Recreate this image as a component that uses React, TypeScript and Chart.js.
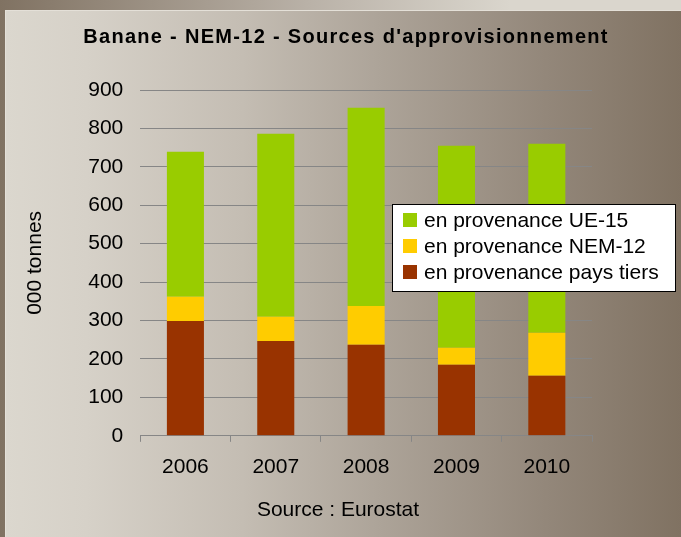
import React, { useEffect, useRef } from "react";
import { Chart, registerables } from "chart.js";

Chart.register(...registerables);

// ---- data ----
const TITLE = "Banane - NEM-12 - Sources d'approvisionnement";
const SOURCE_LABEL = "Source : Eurostat";
const Y_TITLE = "000 tonnes";
const years = ["2006", "2007", "2008", "2009", "2010"];
const paysTiers = [299, 247, 237, 185, 156];
const nem12 = [63, 63, 101, 44, 112];
const ue15 = [377, 476, 516, 526, 492];
const seriesNames = ["en provenance pays tiers", "en provenance NEM-12", "en provenance UE-15"];
const seriesColors = ["#993300", "#FFCC00", "#99CC00"];
const Y_MIN = 0;
const Y_MAX = 900;
const Y_STEP = 100;

const FONT = "'Liberation Sans', Arial, sans-serif";

const overlayPlugin = {
  id: "overlayText",
  afterDraw(chart: any) {
    const ctx = chart.ctx as CanvasRenderingContext2D;
    // title
    ctx.save();
    ctx.fillStyle = "#000";
    ctx.font = `bold 20px ${FONT}`;
    (ctx as any).letterSpacing = "1.3px";
    ctx.textAlign = "center";
    ctx.textBaseline = "alphabetic";
    ctx.fillText(TITLE, 346, 42.5);
    ctx.restore();

    // source label
    ctx.save();
    ctx.fillStyle = "#000";
    ctx.font = `21px ${FONT}`;
    ctx.textAlign = "center";
    ctx.textBaseline = "alphabetic";
    ctx.fillText(SOURCE_LABEL, 338, 516);
    ctx.restore();

    // legend (reverse order of stacking)
    const ds = chart.data.datasets.slice().reverse();
    const bx = 392, by = 204, bw = 284, bh = 88;
    ctx.save();
    ctx.fillStyle = "#ffffff";
    ctx.fillRect(bx, by, bw, bh);
    ctx.strokeStyle = "#000";
    ctx.lineWidth = 1;
    ctx.strokeRect(bx + 0.5, by + 0.5, bw - 1, bh - 1);
    ctx.font = `21px ${FONT}`;
    ctx.textAlign = "left";
    ctx.textBaseline = "alphabetic";
    ds.forEach((d: any, i: number) => {
      const top = 213 + i * 26;
      ctx.fillStyle = d.backgroundColor;
      ctx.fillRect(403, top, 14, 14);
      ctx.fillStyle = "#000";
      ctx.fillText(d.label, 424, top + 13.7);
    });
    ctx.restore();
  },
};

export default function App() {
  const ref = useRef<HTMLCanvasElement | null>(null);

  useEffect(() => {
    if (!ref.current) return;
    const values = [paysTiers, nem12, ue15];
    const chart = new Chart(ref.current, {
      type: "bar",
      data: {
        labels: years,
        datasets: values.map((v, i) => ({
          label: seriesNames[i],
          data: v,
          backgroundColor: seriesColors[i],
          borderWidth: 0,
          categoryPercentage: 1,
          barPercentage: 0.41,
        })),
      },
      options: {
        responsive: false,
        animation: false,
        devicePixelRatio: 1,
        layout: { padding: { top: 90, left: 10, right: 89, bottom: 44 } },
        plugins: {
          legend: { display: false },
          title: { display: false },
          tooltip: { enabled: false },
        },
        scales: {
          x: {
            stacked: true,
            grid: {
              display: true,
              drawOnChartArea: false,
              drawTicks: true,
              tickLength: 6,
              color: "#868686",
            },
            border: { display: true, color: "#868686", width: 1 },
            ticks: {
              color: "#000",
              padding: 13,
              font: { family: FONT, size: 21 },
            },
          },
          y: {
            stacked: true,
            min: Y_MIN,
            max: Y_MAX,
            grid: { color: "#868686", drawTicks: false, lineWidth: 1 },
            border: { display: false },
            ticks: {
              stepSize: Y_STEP,
              color: "#000",
              padding: 17,
              font: { family: FONT, size: 21 },
            },
            title: {
              display: true,
              text: Y_TITLE,
              color: "#000",
              font: { family: FONT, size: 21 },
              padding: { top: 13, bottom: 23 },
            },
          },
        },
      },
      plugins: [overlayPlugin],
    });
    return () => chart.destroy();
  }, []);

  return (
    <div
      style={{
        position: "fixed",
        left: 0,
        top: 0,
        width: 681,
        height: 537,
        background: "linear-gradient(to right, #807262 0%, #b9b1a7 45%, #dad6cd 75%, #dad6cd 100%)",
        overflow: "hidden",
      }}
    >
      <div
        style={{
          position: "absolute",
          left: 5,
          top: 10,
          width: 676,
          height: 527,
          borderLeft: "1px solid #e4e0d8",
          borderTop: "1px solid #e4e0d8",
          boxSizing: "border-box",
          background:
            "linear-gradient(to right, #dbd7ce 0%, #d6d1c8 12%, #c4bdb3 35%, #ada499 55%, #93877a 80%, #807262 100%)",
        }}
      />
      <canvas
        ref={ref}
        width={681}
        height={537}
        style={{ position: "absolute", left: 0, top: 0, width: 681, height: 537 }}
      />
    </div>
  );
}
